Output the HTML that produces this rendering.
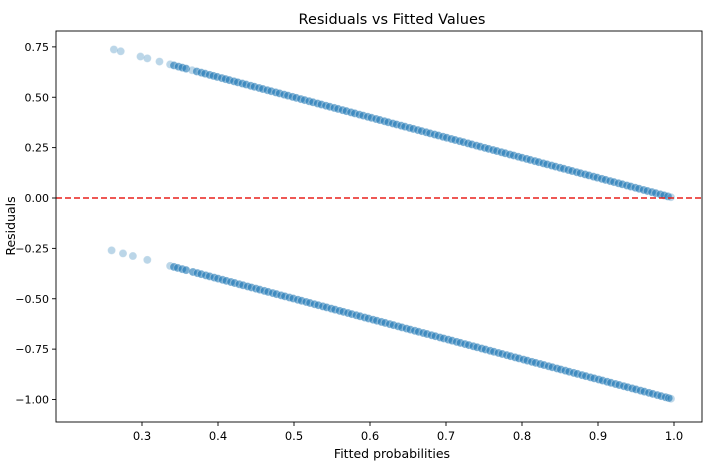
<!DOCTYPE html>
<html><head><meta charset="utf-8"><style>
body{margin:0;background:#fff;}
svg{display:block;font-family:"DejaVu Sans","Liberation Sans",sans-serif;}
</style></head><body>
<svg id="chart" width="711" height="470">
<rect width="711" height="470" fill="#fff"/>
<g id="points"></g>
<line id="zero" stroke="#e8211b" stroke-width="1.6" stroke-dasharray="6,3"/>
<rect x="56" y="31" width="646" height="391" fill="none" stroke="#000" stroke-width="0.9"/>
<g id="xt"></g>
<g id="yt"></g>
<text x="392" y="24" text-anchor="middle" font-size="14.5">Residuals vs Fitted Values</text>
<text x="392" y="458" text-anchor="middle" font-size="12.5">Fitted probabilities</text>
<text transform="translate(15,226) rotate(-90)" text-anchor="middle" font-size="12.5">Residuals</text>
</svg>
<script>
const xTicks=[0.3,0.4,0.5,0.6,0.7,0.8,0.9,1.0];
const xTickLabels=["0.3","0.4","0.5","0.6","0.7","0.8","0.9","1.0"];
const yTicks=[0.75,0.5,0.25,0,-0.25,-0.5,-0.75,-1.0];
const yTickLabels=["0.75","0.50","0.25","0.00","−0.25","−0.50","−0.75","−1.00"];
const upperFitted=[0.263,0.272,0.298,0.307,0.323,0.337,0.342,0.348,0.353,0.358,0.366,0.372,0.378,0.383,0.389,0.394,0.399,0.405,0.41,0.415,0.421,0.426,0.432,0.437,0.443,0.448,0.454,0.459,0.465,0.47,0.476,0.481,0.487,0.492,0.498,0.503,0.509,0.514,0.52,0.525,0.531,0.536,0.542,0.547,0.553,0.558,0.564,0.569,0.575,0.58,0.586,0.591,0.597,0.602,0.608,0.613,0.619,0.624,0.63,0.635,0.641,0.646,0.652,0.657,0.663,0.668,0.674,0.679,0.685,0.69,0.696,0.701,0.707,0.712,0.718,0.723,0.729,0.734,0.74,0.745,0.751,0.756,0.762,0.767,0.773,0.778,0.784,0.789,0.795,0.8,0.806,0.811,0.817,0.822,0.828,0.833,0.839,0.844,0.85,0.855,0.861,0.866,0.872,0.877,0.883,0.888,0.894,0.899,0.905,0.91,0.916,0.921,0.927,0.932,0.938,0.943,0.949,0.954,0.96,0.965,0.971,0.976,0.982,0.987,0.992,0.996];
const lowerFitted=[0.26,0.275,0.288,0.307,0.337,0.342,0.347,0.353,0.358,0.367,0.373,0.378,0.384,0.389,0.395,0.4,0.406,0.411,0.417,0.422,0.428,0.433,0.439,0.444,0.45,0.455,0.461,0.466,0.472,0.477,0.483,0.488,0.494,0.499,0.505,0.51,0.516,0.521,0.527,0.532,0.538,0.543,0.549,0.554,0.56,0.565,0.571,0.576,0.582,0.587,0.593,0.598,0.604,0.609,0.615,0.62,0.626,0.631,0.637,0.642,0.648,0.653,0.659,0.664,0.67,0.675,0.681,0.686,0.692,0.697,0.703,0.708,0.714,0.719,0.725,0.73,0.736,0.741,0.747,0.752,0.758,0.763,0.769,0.774,0.78,0.785,0.791,0.796,0.802,0.807,0.813,0.818,0.824,0.829,0.835,0.84,0.846,0.851,0.857,0.862,0.868,0.873,0.879,0.884,0.89,0.895,0.901,0.906,0.912,0.917,0.923,0.928,0.934,0.939,0.945,0.95,0.956,0.961,0.967,0.972,0.978,0.983,0.989,0.993,0.996];
const upperOutcome=1, lowerOutcome=0;
const X=v=>142+(v-0.3)*760;
const Y=v=>198-v*201.5;
const NS="http://www.w3.org/2000/svg";
const mk=(t,a)=>{const e=document.createElementNS(NS,t);for(const k in a)e.setAttribute(k,a[k]);return e;};
const pg=document.getElementById('points');
function draw(arr,outcome,grp){
  arr.forEach((p,i)=>{
    const near=arr.filter(q=>Math.abs(q-p)<0.012).length;
    const op=near>3?0.62:0.3;
    const c=mk('circle',{cx:X(p),cy:Y(outcome-p),r:4,fill:'#1f77b4','fill-opacity':op,stroke:'#fff','stroke-opacity':0.3,'stroke-width':0.8});
    
    
    pg.appendChild(c);
  });
}
draw(upperFitted,upperOutcome,'upper');
draw(lowerFitted,lowerOutcome,'lower');
const z=document.getElementById('zero');
z.setAttribute('x1',56);z.setAttribute('x2',702);z.setAttribute('y1',Y(0));z.setAttribute('y2',Y(0));
const xt=document.getElementById('xt');
xTicks.forEach((v,i)=>{
  const l=mk('line',{x1:X(v),x2:X(v),y1:422,y2:426,stroke:'#000','stroke-width':0.9});
  
  
  xt.appendChild(l);
  const t=mk('text',{x:X(v),y:440,'text-anchor':'middle','font-size':11.5});
  
  
  t.textContent=xTickLabels[i];xt.appendChild(t);
});
const yt=document.getElementById('yt');
yTicks.forEach((v,i)=>{
  const l=mk('line',{x1:52,x2:56,y1:Y(v),y2:Y(v),stroke:'#000','stroke-width':0.9});
  
  
  yt.appendChild(l);
  const t=mk('text',{x:49,y:Y(v)+4,'text-anchor':'end','font-size':11});
  
  
  t.textContent=yTickLabels[i];yt.appendChild(t);
});
</script>
</body></html>
